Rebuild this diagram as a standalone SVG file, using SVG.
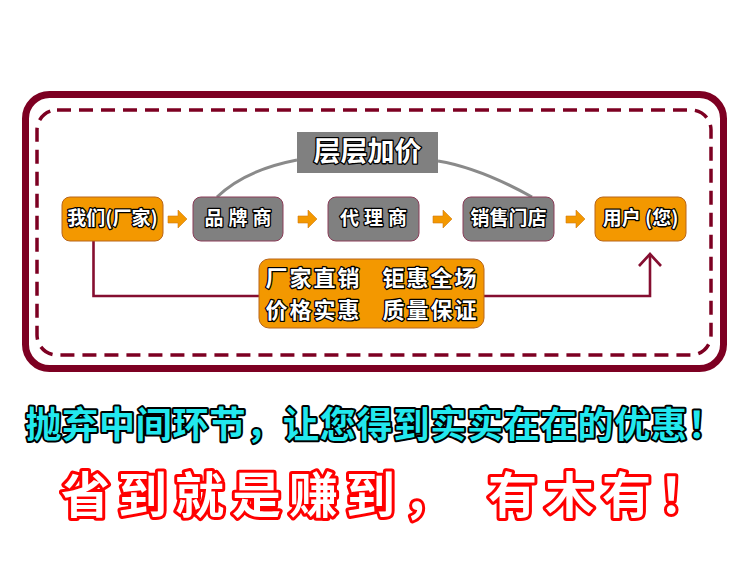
<svg xmlns="http://www.w3.org/2000/svg" width="750" height="563" viewBox="0 0 750 563">
<defs>
<style>
.t{font-family:"Noto Sans CJK SC","Noto Sans",sans-serif;font-weight:bold;fill:#fff;stroke:#000;stroke-width:2.6;paint-order:stroke;stroke-linejoin:round;text-anchor:middle}
.org{fill:#F39800;stroke:#b8651a;stroke-width:1}
.gry{fill:#808080;stroke:#8a3c58;stroke-width:1}
.arw{fill:#F39800;stroke:#d07a10;stroke-width:0.6}
.con{fill:none;stroke:#850e30;stroke-width:2.6}
.cur{fill:none;stroke:#8a8a8a;stroke-width:3}
</style>
</defs>
<rect width="750" height="563" fill="#fff"/>
<g id="frame">
<rect x="25.5" y="94.5" width="698" height="274" rx="24" fill="none" stroke="#7d0022" stroke-width="7"/>
<rect x="37" y="110" width="674" height="245" rx="20" fill="none" stroke="#7d0022" stroke-width="3.5" stroke-dasharray="14 8"/>
</g>
<g id="connectors">
<path class="cur" d="M217,197 Q245,170 297,160"/>
<path class="cur" d="M438,161 Q480,168 532,197"/>
<path class="con" d="M93.5,241 V296 H259"/>
<path class="con" d="M484,296 H650 V254"/>
<path class="con" d="M639,266 L650,254 L661,266"/>
<polygon class="arw" points="168,216 178,216 178,210 187,219 178,228 178,223 168,223"/>
<polygon class="arw" points="298,216 308,216 308,210 317,219 308,228 308,223 298,223"/>
<polygon class="arw" points="433,216 443,216 443,210 452,219 443,228 443,223 433,223"/>
<polygon class="arw" points="566,216 576,216 576,210 585,219 576,228 576,223 566,223"/>
</g>
<g id="markup">
<rect x="297" y="132" width="141" height="41" fill="#808080"/>
<text class="t" x="367.5" y="161" font-size="27">层层加价</text>
</g>
<g id="factory">
<rect class="org" x="62" y="197" width="101" height="44" rx="8"/>
<text class="t" x="112.5" y="225" font-size="19">我们(厂家)</text>
</g>
<g id="brand">
<rect class="gry" x="193" y="197" width="90" height="44" rx="8"/>
<text class="t" x="240.5" y="225" font-size="19" letter-spacing="5">品牌商</text>
</g>
<g id="agent">
<rect class="gry" x="328" y="197" width="91" height="44" rx="8"/>
<text class="t" x="376" y="225" font-size="19" letter-spacing="5">代理商</text>
</g>
<g id="store">
<rect class="gry" x="463" y="197" width="91" height="44" rx="8"/>
<text class="t" x="508.5" y="225" font-size="19">销售门店</text>
</g>
<g id="user">
<rect class="org" x="595" y="197" width="91" height="44" rx="8"/>
<text class="t" x="640.5" y="225" font-size="19">用户 (您)</text>
</g>
<g id="direct">
<rect class="org" x="259" y="259" width="225" height="69" rx="10"/>
<text class="t" x="313.5" y="285.5" font-size="22" letter-spacing="2">厂家直销</text>
<text class="t" x="430.5" y="285.5" font-size="22" letter-spacing="2">钜惠全场</text>
<text class="t" x="313.5" y="317.5" font-size="22" letter-spacing="2">价格实惠</text>
<text class="t" x="430.5" y="317.5" font-size="22" letter-spacing="2">质量保证</text>
</g>
<g id="slogans">
<text x="375" y="438" font-size="36" letter-spacing="0.8" style="font-family:'Noto Sans CJK SC','Noto Sans',sans-serif;font-weight:bold;fill:#22e8ee;stroke:#000;stroke-width:4;paint-order:stroke;stroke-linejoin:round;text-anchor:middle">抛弃中间环节，让您得到实实在在的优惠！</text>
<g style="font-family:'Noto Sans CJK SC','Noto Sans',sans-serif;font-weight:bold;fill:#fff;stroke:#ff0000;stroke-width:6;paint-order:stroke;stroke-linejoin:round">
<text x="61" y="513" font-size="49" letter-spacing="8">省到就是赚到，</text>
<text x="488" y="513" font-size="49" letter-spacing="8">有木有！</text>
</g>
</g>
</svg>
